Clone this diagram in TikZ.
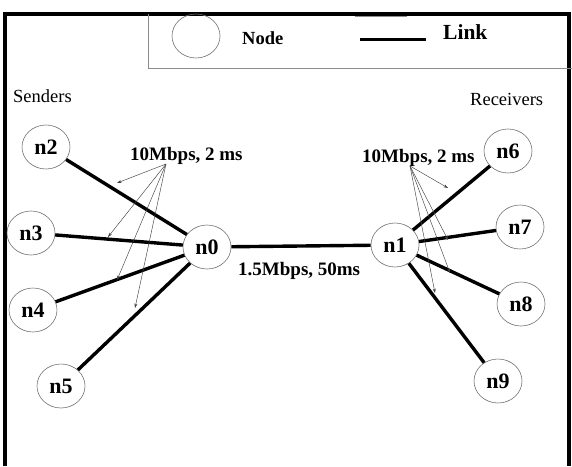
\documentclass[tikz,border=0pt]{standalone}
\usepackage{fontspec}
\setmainfont{Liberation Serif}
\usetikzlibrary{shapes.geometric,arrows.meta}
\begin{document}
\begin{tikzpicture}[x=1pt,y=-1pt,
  netnode/.style={ellipse,draw=black!55,line width=0.6pt,minimum width=48pt,minimum height=44pt,inner sep=0pt,font=\fontsize{22}{26}\selectfont\bfseries},
  link/.style={line width=3.4pt,black},
  lbl/.style={inner sep=0pt,anchor=base west,font=\fontsize{19}{22}\selectfont\bfseries},
  side/.style={inner sep=0pt,anchor=base west,font=\fontsize{18.5}{22}\selectfont},
  ptr/.style={line width=0.45pt,black!75,-{Stealth[length=4.5pt,width=3pt]}},
  frame/.style={line width=4.5pt,black},
  legendline/.style={line width=0.7pt,black!45}]
\useasboundingbox (0,0) rectangle (572,466);
% frame
\draw[frame] (5,466) -- (5,14) -- (569,14) -- (569,466);
% legend
\draw[legendline] (148,14) -- (148,68) -- (572,68);
\draw[legendline] (355,16.5) -- (407,16.5);
\node[netnode] (legcirc) at (196,36) {};
\node[side,font=\fontsize{18.5}{22}\selectfont\bfseries] (legnode) at (242,44) {Node};
\coordinate (linka) at (360,39);
\coordinate (linkb) at (426,39);
\draw[line width=3pt] (linka) -- (linkb);
\node[side,font=\fontsize{21.5}{26}\selectfont\bfseries] (leglink) at (443,39) {Link};
% side titles
\node[side] (senders) at (13,102) {Senders};
\node[side] (receivers) at (470,105) {Receivers};
% nodes
\node[netnode] (n2) at (46,147) {n2};
\node[netnode] (n3) at (31,233) {n3};
\node[netnode] (n4) at (33,310) {n4};
\node[netnode] (n5) at (61,386) {n5};
\node[netnode] (n0) at (207,247) {n0};
\node[netnode] (n1) at (395,245) {n1};
\node[netnode] (n6) at (508,151) {n6};
\node[netnode] (n7) at (520,227) {n7};
\node[netnode] (n8) at (521,304) {n8};
\node[netnode] (n9) at (498,381) {n9};
% links
\draw[link] (n2) -- (n0);
\draw[link] (n3) -- (n0);
\draw[link] (n4) -- (n0);
\draw[link] (n5) -- (n0);
\draw[link] (n0) -- (n1);
\draw[link] (n1) -- (n6);
\draw[link] (n1) -- (n7);
\draw[link] (n1) -- (n8);
\draw[link] (n1) -- (n9);
% labels
\node[lbl] (lblL) at (130,160) {10Mbps, 2 ms};
\node[lbl] (lblR) at (362,162) {10Mbps, 2 ms};
\node[lbl] (lblM) at (238,275) {1.5Mbps, 50ms};
% pointers
\coordinate (oL) at (166,164);
\coordinate (tL1) at (117,183);
\coordinate (tL2) at (108,237);
\coordinate (tL3) at (117,280);
\coordinate (tL4) at (135,308);
\coordinate (oR) at (410,166);
\coordinate (tR1) at (448,188);
\coordinate (tR2) at (448,240);
\coordinate (tR3) at (450,273);
\coordinate (tR4) at (435,293);
\foreach \t in {tL1,tL2,tL3,tL4} \draw[ptr] (oL) -- (\t);
\foreach \t in {tR1,tR2,tR3,tR4} \draw[ptr] (oR) -- (\t);
\end{tikzpicture}
\end{document}
